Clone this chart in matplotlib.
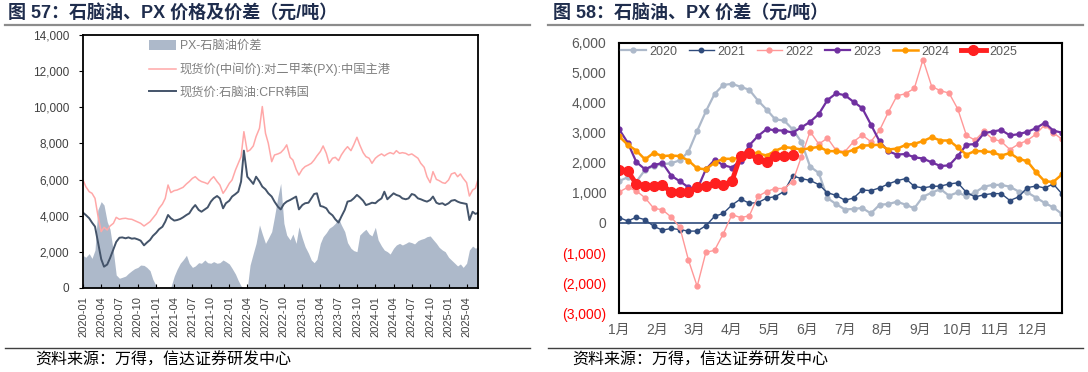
import matplotlib
matplotlib.use('Agg')
import matplotlib.pyplot as plt
import numpy as np
import pandas as pd
from matplotlib.lines import Line2D

plt.rcParams['font.family'] = ['Liberation Sans', 'Noto Sans CJK SC', 'DejaVu Sans']

# ---------------- data: left chart (semi-monthly readings) ----------------
dates = pd.date_range('2020-01-01', periods=131, freq='SMS')

px_price = [5980, 5610, 5330, 5240, 4960, 4040, 3120, 3360, 3210, 3430,
            3580, 3910, 3800, 3840, 3860, 3820, 3800, 3730, 3650, 3580,
            3430, 3540, 3670, 3860, 4100, 4410, 4650, 4960, 5700, 5280,
            5390, 5420, 5500, 5570, 5760, 5890, 6070, 6160, 5980, 5890,
            5830, 5760, 6010, 6160, 5890, 5700, 5240, 5460, 5790, 5980,
            6530, 6900, 7270, 8650, 7550, 7640, 7860, 8380, 8840, 10040,
            8560, 8010, 6990, 7360, 7420, 7490, 7680, 7920, 7230, 7080,
            6570, 6250, 6570, 6720, 6810, 6900, 7080, 7310, 7550, 7860,
            7450, 6900, 7180, 7230, 7050, 7360, 7640, 7820, 7600, 7920,
            8340, 7920, 7490, 7270, 7180, 6900, 7180, 7310, 7420, 7310,
            7420, 7490, 7420, 7600, 7450, 7490, 7450, 7360, 7420, 7310,
            7180, 6900, 6680, 6160, 5830, 6440, 6010, 5940, 5830, 5790,
            5980, 6310, 6380, 6160, 6310, 6070, 5830, 5090, 5420, 5520, 6160]

naphtha = [4170, 4040, 3860, 3620, 3400, 2600, 1600, 1180, 1300, 1650,
           2150, 2550, 2780, 2800, 2750, 2800, 2730, 2750, 2690, 2620,
           2360, 2510, 2660, 2880, 3060, 3250, 3390, 3670, 4040, 3860,
           3730, 3760, 3820, 3910, 4040, 4130, 4410, 4590, 4320, 4220,
           4350, 4460, 4780, 4960, 5090, 4960, 4410, 4690, 4830, 5060,
           5200, 5330, 5890, 7600, 6160, 5980, 5760, 6160, 5890, 5610,
           5460, 5240, 5060, 4780, 4500, 4350, 4650, 4780, 4870, 4960,
           5060, 4350, 4590, 4690, 4720, 4960, 5200, 5240, 4540, 4500,
           4410, 4170, 4020, 3800, 3620, 3950, 4320, 4780, 4830, 4960,
           5150, 5020, 4830, 4590, 4650, 4720, 4690, 4830, 4960, 5330,
           4910, 5060, 5240, 5150, 5090, 4960, 4910, 4960, 5200, 5150,
           4960, 4910, 4830, 4780, 4870, 5060, 4720, 4650, 4690, 4590,
           4690, 4830, 4870, 4780, 4720, 4690, 4650, 3760, 4220, 4100, 4170]

spread = [1800, 1700, 1900, 1640, 2100, 4320, 4780, 4590, 3670, 3250,
          2010, 720, 540, 590, 660, 810, 960, 1070, 1140, 1270,
          1250, 1140, 960, 480, 110, 0, 0, 0, 0, 40,
          660, 1030, 1370, 1550, 1810, 1370, 1140, 1220, 1400, 1370,
          1550, 1400, 1370, 1460, 1370, 1400, 1550, 1460, 1330, 1090,
          770, 410, 110, 0, 0, 1270, 1920, 2470, 3490, 2990,
          2470, 2750, 3120, 3950, 5060, 5790, 3580, 2930, 2660, 2990,
          2470, 3390, 2750, 2290, 1920, 1550, 1400, 1590, 2470, 2840,
          3060, 3300, 3430, 3580, 3860, 3490, 3120, 2510, 2200, 2070,
          2010, 2930, 3120, 3250, 2990, 2880, 3360, 2660, 2320, 2100,
          2010, 1880, 2200, 2380, 2470, 2380, 2470, 2560, 2510, 2440,
          2620, 2690, 2750, 2840, 2880, 2690, 2470, 2250, 2100, 2010,
          1700, 1550, 1370, 1220, 1330, 1140, 1370, 2100, 2320, 2200, 2290]

left_labels = ['PX-石脑油价差', '现货价(中间价):对二甲苯(PX):中国主港', '现货价:石脑油:CFR韩国']

# ---------------- data: right chart (weekly spreads) ----------------
weeks = np.arange(52)
y2020 = [1400, 1520, 1380, 1770, 1900, 1960, 1990, 2090, 2380, 3070, 3720, 4300, 4600,
         4640, 4540, 4440, 4080, 3780, 3450, 3420, 3120, 2700, 1880, 1670, 830, 630,
         450, 470, 500, 320, 610, 630, 710, 610, 490, 880, 1010, 1130, 910,
         1020, 890, 1020, 1210, 1270, 1270, 1210, 1050, 1020, 850, 670, 520, 300]
y2021 = [180, 70, 190, 110, -110, -240, -180, -220, -270, -270, -90, 220, 320,
         600, 800, 660, 680, 830, 880, 1050, 1570, 1480, 1420, 1280, 1010, 920,
         760, 830, 1100, 1080, 1170, 1300, 1410, 1480, 1220, 1170, 1220, 1230, 1300,
         1340, 1020, 870, 940, 980, 980, 750, 870, 1180, 1230, 1170, 1300, 970]
y2022 = [1030, 1190, 1070, 840, 490, 440, 200, -140, -1240, -2110, -980, -910, -360,
         280, 180, 240, 890, 1050, 1150, 1150, 1380, 2210, 3050, 2630, 2830, 2420,
         2380, 2710, 2930, 2710, 3090, 3690, 4240, 4310, 4490, 5450, 4550, 4410, 4330,
         3800, 2920, 2760, 3060, 2800, 2720, 2450, 2630, 2750, 2960, 3270, 3010, 2790]
y2023 = [3130, 2680, 2030, 1790, 1930, 2000, 1580, 1390, 1190, 1120, 1790, 2100, 1930,
         1850, 2080, 2590, 2900, 3130, 3090, 3080, 3010, 3190, 3370, 3630, 4100, 4320,
         4260, 4040, 3830, 3280, 2720, 2390, 2280, 2300, 2190, 2150, 2020, 1900, 1920,
         2230, 2610, 2630, 2990, 3050, 3100, 2920, 2960, 3040, 3160, 3340, 3080, 3010]
y2024 = [2890, 2610, 2410, 2120, 2340, 2230, 2250, 2230, 2080, 1820, 1790, 2010, 2140,
         2140, 2170, 2370, 2320, 2250, 2410, 2530, 2500, 2450, 2490, 2540, 2400, 2390,
         2340, 2440, 2580, 2590, 2610, 2450, 2480, 2600, 2640, 2730, 2860, 2750, 2750,
         2520, 2280, 2400, 2390, 2360, 2250, 2330, 2140, 2060, 1700, 1390, 1370, 1620]
y2025 = [1780, 1740, 1300, 1250, 1230, 1280, 1020, 1030, 1040, 1200, 1250, 1320, 1270,
         1390, 2250, 2320, 2120, 2050, 2230, 2230, 2260]
month_labels = ['1月', '2月', '3月', '4月', '5月', '6月', '7月', '8月', '9月', '10月', '11月', '12月']
right_ticks = [-3000, -2000, -1000, 0, 1000, 2000, 3000, 4000, 5000, 6000]

W, H = 1088, 372
fig = plt.figure(figsize=(W / 100, H / 100), dpi=100)

def fx(px):
    return px / W

def fy(py):
    return 1 - py / H

title_color = '#1f2d4d'
cjk = ['Liberation Sans', 'Noto Sans CJK SC']
fig.text(fx(8), fy(13), '图 57：石脑油、PX 价格及价差（元/吨）', fontsize=13, fontweight='bold',
         color=title_color, va='center', ha='left', family=cjk)
fig.text(fx(553), fy(13), '图 58：石脑油、PX 价差（元/吨）', fontsize=13, fontweight='bold',
         color=title_color, va='center', ha='left', family=cjk)
for x0, x1 in [(5, 530), (548, 1083)]:
    fig.add_artist(Line2D([fx(x0), fx(x1)], [fy(25), fy(25)], color='#8c8c8c', lw=1.6))
    fig.add_artist(Line2D([fx(x0), fx(x1)], [fy(348), fy(348)], color='#404040', lw=1.0))
fig.text(fx(35), fy(360), '资料来源：万得，信达证券研发中心', fontsize=11.5, va='center', ha='left',
         family=['Noto Sans CJK SC'], color='black')
fig.text(fx(572), fy(360), '资料来源：万得，信达证券研发中心', fontsize=11.5, va='center', ha='left',
         family=['Noto Sans CJK SC'], color='black')

# ---------------- left chart ----------------
ax1 = fig.add_axes([fx(83), fy(288), fx(478) - fx(83), fy(35) - fy(288)])
ax1.fill_between(dates, 0, spread, color='#adb9ca', lw=0, label=left_labels[0])
ax1.plot(dates, px_price, color='#ffa8a8', lw=1.1, label=left_labels[1])
ax1.plot(dates, naphtha, color='#44546a', lw=1.4, label=left_labels[2])
ax1.set_xlim(pd.Timestamp('2020-01-01'), pd.Timestamp('2025-05-28'))
ax1.set_ylim(0, 14000)
ax1.set_yticks(range(0, 14001, 2000))
ax1.set_yticklabels([f'{v:,}' for v in range(0, 14001, 2000)])
qticks = pd.date_range('2020-01-01', '2025-04-01', freq='QS')
ax1.set_xticks(qticks)
ax1.set_xticklabels([d.strftime('%Y-%m') for d in qticks], rotation=90)
ax1.tick_params(axis='y', direction='out', length=3, labelsize=8.5, labelcolor='#404040', pad=7)
ax1.tick_params(axis='x', direction='in', length=3, labelsize=8, labelcolor='#404040', pad=6)
for s in ax1.spines.values():
    s.set_color('black')
    s.set_linewidth(1.3)
leg1 = ax1.legend(loc='upper left', bbox_to_anchor=(0.168, 0.98), frameon=False,
                  handlelength=2.2, handleheight=0.9, handletextpad=0.3, labelspacing=0.85,
                  borderpad=0, borderaxespad=0, prop={'family': cjk, 'size': 8.8})
for t in leg1.get_texts():
    t.set_color('#7f7f7f')

# ---------------- right chart ----------------
ax2 = fig.add_axes([fx(619), fy(313), fx(1062) - fx(619), fy(43) - fy(313)])
ax2.axhline(0, color='#2f4b7c', lw=1.2, zorder=1)
ax2.plot(weeks, y2020, color='#adb9ca', lw=1.6, marker='o', ms=3.5, label='2020')
ax2.plot(weeks, y2021, color='#2f4b7c', lw=1.0, marker='o', ms=3.2, label='2021')
ax2.plot(weeks, y2022, color='#ff9898', lw=1.0, marker='o', ms=3.5, label='2022')
ax2.plot(weeks, y2023, color='#7030a0', lw=1.6, marker='o', ms=3.5, label='2023')
ax2.plot(weeks, y2024, color='#ff9900', lw=1.8, marker='o', ms=3.5, label='2024')
ax2.plot(weeks[:len(y2025)], y2025, color='#ff2020', lw=3.5, marker='o', ms=7, label='2025')
ax2.set_xlim(0, 51)
ax2.set_ylim(-3000, 6000)
ax2.set_yticks(right_ticks)
ax2.set_yticklabels([f'({abs(v):,})' if v < 0 else f'{v:,}' for v in right_ticks])
for v, lab in zip(right_ticks, ax2.get_yticklabels()):
    lab.set_color('#ff0000' if v < 0 else '#595959')
ax2.set_xticks(np.arange(12) * 52 / 12)
ax2.set_xticklabels(month_labels)
ax2.tick_params(axis='both', length=0, labelsize=10)
ax2.tick_params(axis='y', pad=9)
ax2.tick_params(axis='x', pad=7, labelcolor='#595959')
for s in ax2.spines.values():
    s.set_color('black')
    s.set_linewidth(1.5)
leg2 = ax2.legend(loc='upper left', bbox_to_anchor=(0.004, 0.99), ncol=6, frameon=False,
                  fontsize=9, handlelength=2.0, handletextpad=0.3, columnspacing=0.9,
                  borderpad=0, borderaxespad=0)
for t in leg2.get_texts():
    t.set_color('#595959')

fig.savefig('out.png', dpi=100)
